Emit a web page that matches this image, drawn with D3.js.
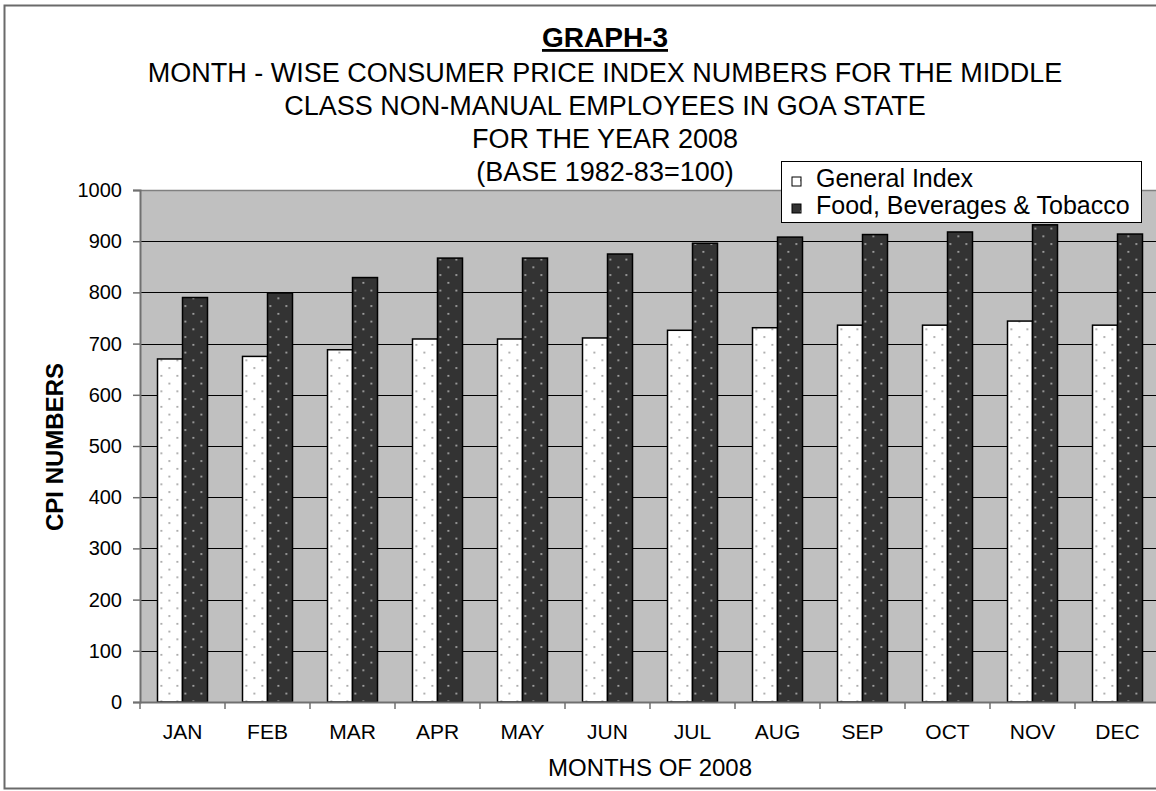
<!DOCTYPE html>
<html>
<head>
<meta charset="utf-8">
<script src="https://cdn.jsdelivr.net/npm/d3@7"></script>
<style>
  body { margin: 0; background: #fff; }
  text { font-family: "Liberation Sans", Arial, sans-serif; }
</style>
</head>
<body>
<svg id="chart" width="1156" height="791"></svg>
<script>
// data
const months = ["JAN", "FEB", "MAR", "APR", "MAY", "JUN", "JUL", "AUG", "SEP", "OCT", "NOV", "DEC"];
const seriesNames = ["General Index", "Food, Beverages & Tobacco"];
const generalIndex = [670, 675, 688, 709, 709, 711, 726, 731, 736, 736, 744, 736];
const foodBevTobacco = [790, 799, 829, 867, 867, 875, 896, 908, 913, 918, 932, 914];
const yTicks = [0, 100, 200, 300, 400, 500, 600, 700, 800, 900, 1000];
const titleLines = [
  "MONTH - WISE CONSUMER PRICE INDEX NUMBERS FOR THE MIDDLE",
  "CLASS NON-MANUAL EMPLOYEES IN GOA STATE",
  "FOR THE YEAR 2008",
  "(BASE 1982-83=100)"
];

const svg = d3.select("#chart");
const plot = {left: 140, right: 1160, top: 190, bottom: 702};

// outer chart border (runs off the right edge like the original)
svg.append("rect")
  .attr("x", 4.5).attr("y", 5.5)
  .attr("width", 1200).attr("height", 783)
  .attr("fill", "#fff").attr("stroke", "#6a6a6a").attr("stroke-width", 2);

// fill patterns
const defs = svg.append("defs");
function dotPattern(id, bg, dot) {
  const p = defs.append("pattern").attr("id", id)
    .attr("patternUnits", "userSpaceOnUse")
    .attr("width", 16).attr("height", 15.5);
  p.append("rect").attr("width", 16).attr("height", 15.5).attr("fill", bg);
  p.append("rect").attr("x", 3).attr("y", 3).attr("width", 1.6).attr("height", 1.6).attr("fill", dot);
  p.append("rect").attr("x", 11).attr("y", 10.75).attr("width", 1.6).attr("height", 1.6).attr("fill", dot);
}
dotPattern("patGen", "#ffffff", "#8a8a8a");
dotPattern("patFood", "#333333", "#c8c8c8");
const fills = ["url(#patGen)", "url(#patFood)"];

const x0 = d3.scaleBand().domain(months)
  .range([plot.left, plot.right])
  .paddingInner(35 / 85).paddingOuter(35 / 170);
const x1 = d3.scaleBand().domain([0, 1]).range([0, x0.bandwidth()]);
const y = d3.scaleLinear().domain([0, 1000]).range([plot.bottom, plot.top]);

// plot background
svg.append("rect")
  .attr("x", plot.left).attr("y", plot.top)
  .attr("width", plot.right - plot.left).attr("height", plot.bottom - plot.top)
  .attr("fill", "#c0c0c0");

// gridlines
svg.append("g").selectAll("line")
  .data(yTicks.filter(d => d > 0 && d < 1000))
  .join("line")
  .attr("x1", plot.left).attr("x2", plot.right)
  .attr("y1", d => Math.round(y(d)) + 0.5).attr("y2", d => Math.round(y(d)) + 0.5)
  .attr("stroke", "#000").attr("stroke-width", 1);

// top border of plot area
svg.append("line")
  .attr("x1", plot.left).attr("x2", plot.right)
  .attr("y1", plot.top + 0.5).attr("y2", plot.top + 0.5)
  .attr("stroke", "#808080").attr("stroke-width", 1.5);

// bars
const rows = months.map((m, i) => ({month: m, vals: [generalIndex[i], foodBevTobacco[i]]}));
svg.append("g").selectAll("g")
  .data(rows)
  .join("g")
  .attr("transform", d => `translate(${x0(d.month)},0)`)
  .selectAll("rect")
  .data(d => d.vals.map((v, k) => ({k, v})))
  .join("rect")
  .attr("x", d => x1(d.k))
  .attr("y", d => y(d.v))
  .attr("width", x1.bandwidth())
  .attr("height", d => y(0) - y(d.v))
  .attr("fill", d => fills[d.k])
  .attr("stroke", "#000").attr("stroke-width", 1.5);

// y axis
const yAxis = svg.append("g")
  .attr("transform", `translate(${plot.left},0)`)
  .call(d3.axisLeft(y).tickValues(yTicks).tickFormat(d3.format("d")).tickSize(7).tickPadding(11));
yAxis.select(".domain").attr("stroke", "#707070").attr("stroke-width", 2);
yAxis.selectAll(".tick line").attr("stroke", "#707070").attr("stroke-width", 1.5);
yAxis.selectAll("text").attr("font-size", 20).attr("fill", "#000")
  .style("font-family", "'Liberation Sans', Arial, sans-serif");

// x axis: labels centred, ticks on the category boundaries
const xAxis = svg.append("g")
  .attr("transform", `translate(0,${plot.bottom})`)
  .call(d3.axisBottom(x0).tickSize(0).tickPadding(22));
xAxis.select(".domain").attr("stroke", "#707070").attr("stroke-width", 2);
xAxis.selectAll("text").attr("font-size", 21).attr("fill", "#000")
  .style("font-family", "'Liberation Sans', Arial, sans-serif");
const step = x0.step();
svg.append("g").selectAll("line")
  .data(d3.range(months.length + 1))
  .join("line")
  .attr("x1", i => plot.left + i * step).attr("x2", i => plot.left + i * step)
  .attr("y1", plot.bottom).attr("y2", plot.bottom + 7)
  .attr("stroke", "#707070").attr("stroke-width", 1.5);

// axis titles
svg.append("text")
  .attr("x", (plot.left + plot.right) / 2).attr("y", 776)
  .attr("text-anchor", "middle").attr("font-size", 24)
  .text("MONTHS OF 2008");
svg.append("text")
  .attr("transform", "translate(63,447) rotate(-90)")
  .attr("text-anchor", "middle").attr("font-size", 24).attr("font-weight", "bold")
  .text("CPI NUMBERS");

// titles
const cx = 605;
svg.append("text")
  .attr("x", cx).attr("y", 47)
  .attr("text-anchor", "middle").attr("font-size", 28).attr("font-weight", "bold")
  .style("text-decoration", "underline")
  .text("GRAPH-3");
svg.append("g").selectAll("text")
  .data(titleLines)
  .join("text")
  .attr("x", cx).attr("y", (d, i) => 82 + i * 33)
  .attr("text-anchor", "middle").attr("font-size", 27)
  .text(d => d);

// legend
const lg = svg.append("g").attr("transform", "translate(781,161)");
lg.append("rect").attr("x", 0.5).attr("y", 0.5).attr("width", 360).attr("height", 61)
  .attr("fill", "#fff").attr("stroke", "#000").attr("stroke-width", 1);
seriesNames.forEach((name, k) => {
  lg.append("rect")
    .attr("x", 11).attr("y", 16 + k * 27).attr("width", 9).attr("height", 9)
    .attr("fill", fills[k]).attr("stroke", "#000").attr("stroke-width", 1);
  lg.append("text")
    .attr("x", 35).attr("y", 26 + k * 27)
    .attr("font-size", 25)
    .text(name);
});
</script>
</body>
</html>
